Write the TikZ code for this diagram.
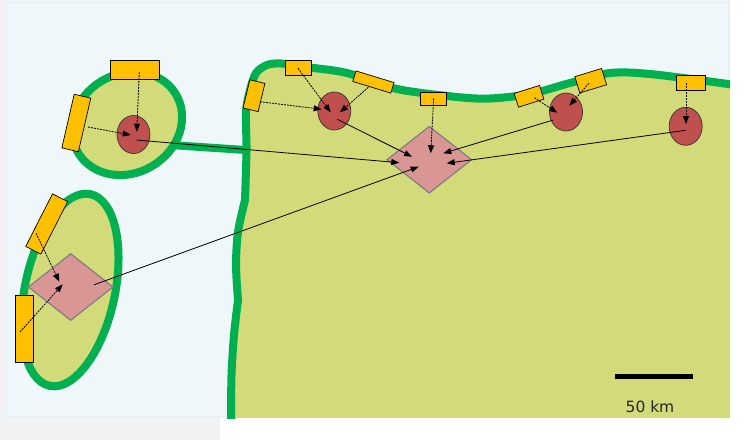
\documentclass[tikz,border=0pt]{standalone}
\usepackage{fontspec}
\setmainfont{DejaVu Sans}
\usetikzlibrary{shapes.geometric,arrows.meta,calc}
\definecolor{seablue}{HTML}{EFF7FB}
\definecolor{seaedge}{HTML}{E3EFF4}
\definecolor{landgreen}{HTML}{D3DA7A}
\definecolor{coast}{HTML}{00B050}
\definecolor{sensorfill}{HTML}{FFC000}
\definecolor{relayfill}{HTML}{C0504D}
\definecolor{hubfill}{HTML}{D99694}
\tikzset{
  coastline/.style={draw=coast, line width=8pt},
  sensor/.style={draw=black, fill=sensorfill, line width=0.7pt, inner sep=0pt, minimum width=#1},
  relay/.style={ellipse, draw=black!80, fill=relayfill, line width=0.7pt, inner sep=0pt, minimum width=33pt, minimum height=38pt},
  hub/.style={diamond, draw=black!50, fill=hubfill, line width=1.2pt, inner sep=0pt, minimum width=85pt, minimum height=67pt},
  sensorlink/.style={-{Triangle[length=8pt,width=6pt]}, line width=0.8pt, dash pattern=on 2pt off 1pt},
  relaylink/.style={-{Triangle[length=8pt,width=6pt]}, line width=0.8pt}
}
\begin{document}
\begin{tikzpicture}[x=1pt,y=-1pt]
  \useasboundingbox (0,0) rectangle (750,440);
  \fill[white] (0,0) rectangle (750,440);
  \fill[black!5] (0,0) rectangle (220,440);
  \fill[black!5] (0,0) rectangle (730,418);
  \filldraw[fill=seablue, draw=seaedge, line width=1.5pt] (6.5,2.5) rectangle (729,416.5);

  % mainland
  \fill[landgreen] plot[smooth] coordinates {(231,418) (231.5,375) (234,335) (238,300)}
    -- plot[smooth] coordinates {(238,300) (236,265) (238,232) (245,200)}
    -- plot[smooth] coordinates {(245,200) (246.5,150) (246,112) (250,90) (256,73) (267,65) (281,63.5) (310,67.5) (347,73) (397,89) (457,97) (490,98.5) (530,94) (570,83) (610,73) (650,74) (723,83.3) (730,85)}
    -- (730,418) -- cycle;
  \begin{scope}
    \clip (0,0) rectangle (730,418);
    \draw[coastline] (170,145) -- (246,150);
    \draw[coastline, line join=round] plot[smooth] coordinates {(231,420) (231.5,375) (234,335) (238,300)}
      -- plot[smooth] coordinates {(238,300) (236,265) (238,232) (245,200)}
      -- plot[smooth] coordinates {(245,200) (246.5,150) (246,112) (250,90) (256,73) (267,65) (281,63.5) (310,67.5) (347,73) (397,89) (457,97) (490,98.5) (530,94) (570,83) (610,73) (650,74) (723,83.3) (735,85.5)};
  \end{scope}

  % islands
  \filldraw[coastline, fill=landgreen] (127,123.5) ellipse [x radius=57, y radius=49.5, rotate=31];
  \filldraw[coastline, fill=landgreen] (70,290) ellipse [x radius=98, y radius=45, rotate=78];

  % sensors
  \node[sensor=49pt, minimum height=19pt] (sensorA) at (135,70) {};
  \node[sensor=55pt, minimum height=17pt, rotate=77] (sensorB) at (76.3,123) {};
  \node[sensor=59pt, minimum height=17pt, rotate=63] (sensorC) at (46.7,224) {};
  \node[sensor=18pt, minimum height=67pt] (sensorD) at (24.2,328.5) {};
  \node[sensor=29pt, minimum height=15.5pt, rotate=76.5] (sensorE) at (254,95.7) {};
  \node[sensor=26.5pt, minimum height=15pt] (sensorF) at (298.5,68) {};
  \node[sensor=39.7pt, minimum height=11pt, rotate=-17] (sensorG) at (373.4,82) {};
  \node[sensor=26.5pt, minimum height=13.5pt] (sensorH) at (433.5,99) {};
  \node[sensor=26.6pt, minimum height=14.4pt, rotate=17.5] (sensorI) at (529,96.3) {};
  \node[sensor=28pt, minimum height=17pt, rotate=17] (sensorJ) at (590.7,80.7) {};
  \node[sensor=29.6pt, minimum height=15pt] (sensorK) at (691,83) {};

  % relays and hubs
  \node[relay] (relayA) at (133.5,134.5) {};
  \node[relay] (relayB) at (334.3,111) {};
  \node[relay] (relayC) at (566,112) {};
  \node[relay] (relayD) at (685.7,126.3) {};
  \node[hub] (hubA) at (429.3,159.7) {};
  \node[hub] (hubB) at (70.7,287) {};

  % sensor links
  \draw[sensorlink] ($(sensorA)+(4.3,2)$) -- ($(relayA)+(3.2,-2.8)$);
  \draw[sensorlink] ($(sensorB)+(11.7,4)$) -- ($(relayA)+(-2.8,0.5)$);
  \draw[sensorlink] ($(sensorC)+(-10.7,9.3)$) -- ($(hubB)+(-11.4,-5.3)$);
  \draw[sensorlink] ($(sensorD)+(-4.2,3.5)$) -- ($(hubB)+(-8,-2.7)$);
  \draw[sensorlink] ($(sensorE)+(6,6)$) -- ($(relayB)+(-12.6,-1.7)$);
  \draw[sensorlink] ($(sensorF)+(-0.5,0.3)$) -- ($(relayB)+(-3.6,1.3)$);
  \draw[sensorlink] ($(sensorG)+(-5.1,5.3)$) -- ($(relayB)+(5.7,1.3)$);
  \draw[sensorlink] ($(sensorH)+(0.2,-0.7)$) -- ($(hubA)+(1.4,-6.4)$);
  \draw[sensorlink] ($(sensorI)+(5.3,1.4)$) -- ($(relayC)+(-8.7,0.7)$);
  \draw[sensorlink] ($(sensorJ)+(-1.7,2.6)$) -- ($(relayC)+(3.3,-6.3)$);
  \draw[sensorlink] ($(sensorK)+(-5,0.3)$) -- ($(relayD)+(0.3,-2.3)$);

  % relay links
  \draw[relaylink] ($(relayA)+(3.2,5.5)$) -- ($(hubA)+(-30,3)$);
  \draw[relaylink] ($(relayB)+(3,8.3)$) -- ($(hubA)+(-17.3,-3)$);
  \draw[relaylink] ($(relayC)+(-12.7,8)$) -- ($(hubA)+(14,-6.4)$);
  \draw[relaylink] ($(relayD)+(0,4)$) -- ($(hubA)+(17.4,3.6)$);
  \draw[relaylink] ($(hubB)+(23.6,-2.3)$) -- ($(hubA)+(-10.6,7)$);

  % scale bar
  \coordinate (barL) at (615,376.5);
  \coordinate (barR) at (693,376.5);
  \draw[line width=5pt] (barL) -- (barR);
  \node[font=\fontsize{15.5}{18}\selectfont, text=black!85] (barlabel) at (650,407) {50 km};
\end{tikzpicture}
\end{document}
